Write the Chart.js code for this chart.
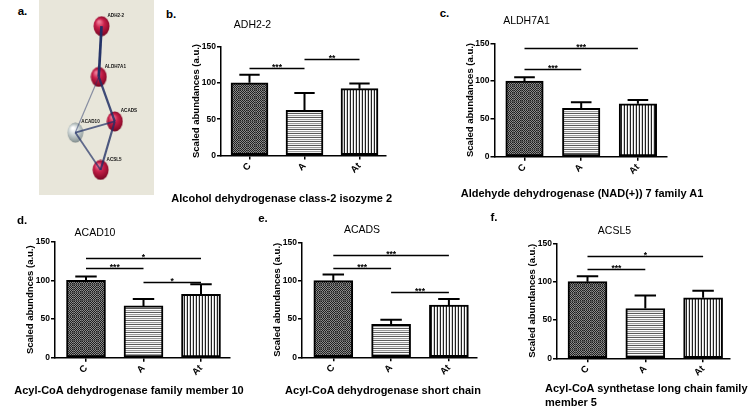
<!DOCTYPE html>
<html>
<head>
<meta charset="utf-8">
<script src="https://cdn.jsdelivr.net/npm/chart.js@4.4.1/dist/chart.umd.min.js"></script>
<style>
html, body { margin: 0; padding: 0; background: #fff; }
#wrap { position: relative; width: 754px; height: 406px; overflow: hidden; font-family: 'Liberation Sans', Arial, sans-serif; }
#wrap canvas { position: absolute; }
.t { position: absolute; white-space: nowrap; line-height: 1; color: #000; }
</style>
</head>
<body>
<div id="wrap"></div>
<script>
// ---- datos ----
const groups = ['C', 'A', 'At'];
const yTicks = [0, 50, 100, 150];

// media, error (SEM) y marcas de significancia [desde, hasta, altura, texto]
const adhMean = [100, 62, 92];
const adhSem = [11, 24, 7];
const adhSig = [[0, 1, 121, '***'], [1, 2, 133, '**']];

const aldhMean = [100, 64, 70];
const aldhSem = [5, 8, 5];
const aldhSig = [[0, 1, 116, '***'], [0, 2, 144, '***']];

const acad10Mean = [100, 67, 82];
const acad10Sem = [5, 9, 13];
const acad10Sig = [[0, 1, 116, '***'], [0, 2, 129, '*'], [1, 2, 98, '*']];

const acadsMean = [100, 43, 68];
const acadsSem = [8, 6, 8];
const acadsSig = [[0, 1, 116, '***'], [0, 2, 133, '***'], [1, 2, 85, '***']];

const acsl5Mean = [100, 65, 79];
const acsl5Sem = [7, 17, 9];
const acsl5Sig = [[0, 1, 117, '***'], [0, 2, 133, '*']];

// red de interacción (panel a)
const nodeNames = ['ADH2-2', 'ALDH7A1', 'ACADS', 'ACAD10', 'ACSL5'];
const nodeX = [63, 60, 77.5, 34.3, 62];
const nodeY = [22.3, 75.8, 122.7, 134.5, 173.8];
const nodeHit = [true, true, true, false, true];
const edgeFrom = [0, 1, 1, 3, 3, 2];
const edgeTo = [1, 2, 3, 2, 4, 4];
const edgeScore = [0.95, 0.75, 0.2, 0.55, 0.5, 0.65];

const FONT = "'Liberation Sans', Arial, sans-serif";
const wrap = document.getElementById('wrap');

function addText(str, x, y, size, weight, align) {
    const d = document.createElement('div');
    d.className = 't';
    d.textContent = str;
    d.style.left = x + 'px';
    d.style.top = y + 'px';
    d.style.fontSize = size + 'px';
    d.style.fontWeight = weight;
    d.style.transform = align === 'left' ? 'translate(0,-50%)' : 'translate(-50%,-50%)';
    wrap.appendChild(d);
}

function addCanvas(left, top, w, h) {
    const cv = document.createElement('canvas');
    cv.width = w; cv.height = h;
    cv.style.left = left + 'px'; cv.style.top = top + 'px';
    cv.style.width = w + 'px'; cv.style.height = h + 'px';
    wrap.appendChild(cv);
    return cv;
}

function makeTile(w, h, draw) {
    const c = document.createElement('canvas');
    c.width = w; c.height = h;
    draw(c.getContext('2d'));
    return c;
}

// texturas de las barras
const checkTile = makeTile(8, 8, g => {
    g.fillStyle = '#8c8c8c'; g.fillRect(0, 0, 8, 8);
    g.fillStyle = '#1e1e1e';
    for (let i = 0; i < 8; i++) for (let j = 0; j < 8; j++) if ((i + j) % 2 === 0) g.fillRect(i, j, 1, 1);
    g.fillStyle = '#555555'; g.fillRect(0, 0, 8, 1); g.fillRect(0, 0, 1, 8);
});
const hTile = makeTile(1, 4, g => {
    ['#5a5a5a', '#ffffff', '#9a9a9a', '#f0f0f0'].forEach((c, i) => { g.fillStyle = c; g.fillRect(0, i, 1, 1); });
});
const vTile = makeTile(3, 1, g => {
    ['#222222', '#ffffff', '#d0d0d0'].forEach((c, i) => { g.fillStyle = c; g.fillRect(i, 0, 1, 1); });
});

// barras de error y líneas de significancia
const errSigPlugin = {
    id: 'errSig',
    afterDatasetsDraw(chart, args, o) {
        const { ctx, scales: { x, y } } = chart;
        ctx.save();
        ctx.strokeStyle = '#000';
        ctx.lineWidth = 2;
        o.mean.forEach((m, i) => {
            const px = x.getPixelForValue(i);
            const y0 = y.getPixelForValue(m), y1 = y.getPixelForValue(m + o.sem[i]);
            ctx.beginPath();
            ctx.moveTo(px, y0); ctx.lineTo(px, y1);
            ctx.moveTo(px - o.cap / 2, y1); ctx.lineTo(px + o.cap / 2, y1);
            ctx.stroke();
        });
        ctx.lineWidth = 1.3;
        ctx.fillStyle = '#000';
        ctx.font = 'bold 8.5px ' + FONT;
        ctx.textAlign = 'center';
        ctx.textBaseline = 'alphabetic';
        o.sig.forEach(([a, b, v, s]) => {
            const x0 = x.getPixelForValue(a), x1 = x.getPixelForValue(b), py = Math.round(y.getPixelForValue(v)) + 0.5;
            ctx.beginPath(); ctx.moveTo(x0, py); ctx.lineTo(x1, py); ctx.stroke();
            ctx.fillText(s, (x0 + x1) / 2, py + 1.5);
        });
        ctx.restore();
    }
};

function barPanel(lay, mean, sem, sig) {
    const left = Math.round(lay.titleX - 6), top = Math.round(lay.T - 22);
    const w = Math.round(lay.R + 6 - left), h = Math.round(lay.B + 28 - top);
    const cv = addCanvas(left, top, w, h);
    const g = cv.getContext('2d');
    const fills = [g.createPattern(checkTile, 'repeat'), g.createPattern(hTile, 'repeat'), g.createPattern(vTile, 'repeat')];
    new Chart(cv, {
        type: 'bar',
        data: {
            datasets: [{
                data: mean.map((v, i) => ({ x: i, y: v })),
                backgroundColor: fills,
                borderColor: '#000',
                borderWidth: 2,
                borderSkipped: false,
                barThickness: lay.bw
            }]
        },
        options: {
            responsive: false,
            animation: false,
            events: [],
            layout: { padding: { top: lay.T - top, right: w - (lay.R - left), left: 0, bottom: 0 } },
            plugins: {
                legend: { display: false },
                tooltip: { enabled: false },
                errSig: { mean, sem, sig, cap: lay.bw * 0.55 }
            },
            scales: {
                x: {
                    type: 'linear',
                    min: (lay.L - lay.c0) / lay.s,
                    max: (lay.R - lay.c0) / lay.s,
                    offset: false,
                    afterBuildTicks: s => { s.ticks = groups.map((gr, i) => ({ value: i })); },
                    afterFit: s => { s.height = h - (lay.B - top); },
                    ticks: {
                        callback: v => groups[v],
                        minRotation: 45, maxRotation: 45,
                        color: '#000', padding: 1,
                        font: { family: FONT, size: 9.5, weight: 'bold' }
                    },
                    grid: { drawOnChartArea: false, offset: false, tickLength: 4, color: '#000', lineWidth: 1.5 },
                    border: { color: '#000', width: 1.5 }
                },
                y: {
                    min: 0, max: 150,
                    afterBuildTicks: s => { s.ticks = yTicks.map(v => ({ value: v })); },
                    afterFit: s => { s.width = lay.L - left; },
                    ticks: { color: '#000', padding: 1, font: { family: FONT, size: 8.5, weight: 'bold' } },
                    grid: { drawOnChartArea: false, tickLength: 4, color: '#000', lineWidth: 1.5 },
                    border: { color: '#000', width: 1.5 },
                    title: {
                        display: true, text: lay.ytitle, color: '#000', padding: 0,
                        font: { family: FONT, size: 9.5, weight: 'bold' }
                    }
                }
            }
        },
        plugins: [errSigPlugin]
    });
}

// ---- panel a: red ----
function sphere(hit) {
    return makeTile(17, 21, g => {
        const gr = g.createRadialGradient(6, 6, 1, 8.5, 10.5, 11);
        if (hit) {
            gr.addColorStop(0, '#f07a96');
            gr.addColorStop(0.35, '#c8204a');
            gr.addColorStop(0.8, '#8a0a2a');
            gr.addColorStop(1, '#5a0018');
        } else {
            gr.addColorStop(0, '#ffffff');
            gr.addColorStop(0.4, '#cdd5d5');
            gr.addColorStop(0.85, '#8f9a9a');
            gr.addColorStop(1, '#5e6868');
        }
        g.fillStyle = gr;
        g.beginPath();
        g.ellipse(8.5, 10.5, 8, 10, 0, 0, Math.PI * 2);
        g.fill();
    });
}

const netBg = {
    id: 'netBg',
    beforeDraw(chart) {
        const { ctx, width, height } = chart;
        ctx.save();
        ctx.fillStyle = '#e8e6da';
        ctx.fillRect(0, 0, width, height);
        ctx.restore();
    },
    afterDatasetsDraw(chart) {
        const { ctx, scales: { x, y } } = chart;
        ctx.save();
        ctx.fillStyle = '#111';
        ctx.font = 'bold 4.6px ' + FONT;
        ctx.textBaseline = 'middle';
        nodeNames.forEach((n, i) => {
            ctx.fillText(n, x.getPixelForValue(nodeX[i]) + 6, y.getPixelForValue(nodeY[i]) - 10.5);
        });
        ctx.restore();
    }
};

function networkPanel() {
    const cv = addCanvas(39, 0, 115, 195);
    const red = sphere(true), grey = sphere(false);
    const edgeSets = edgeFrom.map((a, k) => ({
        type: 'line',
        data: [{ x: nodeX[a], y: nodeY[a] }, { x: nodeX[edgeTo[k]], y: nodeY[edgeTo[k]] }],
        borderColor: `rgba(30, 45, 100, ${0.35 + 0.65 * edgeScore[k]})`,
        borderWidth: 0.8 + 2 * edgeScore[k],
        pointRadius: 0
    }));
    new Chart(cv, {
        type: 'scatter',
        data: {
            datasets: [...edgeSets, {
                type: 'scatter',
                data: nodeX.map((v, i) => ({ x: v, y: nodeY[i] })),
                pointStyle: nodeHit.map(h => h ? red : grey)
            }]
        },
        options: {
            responsive: false,
            animation: false,
            events: [],
            layout: { padding: 0 },
            plugins: { legend: { display: false }, tooltip: { enabled: false } },
            scales: {
                x: { type: 'linear', min: 0, max: 115, display: false },
                y: { type: 'linear', min: 0, max: 195, reverse: true, display: false }
            }
        },
        plugins: [netBg]
    });
}

networkPanel();

barPanel({ L: 221, R: 386, T: 46.5, B: 155.5, c0: 249.5, s: 55, bw: 37, titleX: 197, ytitle: 'Scaled abundances (a.u.)' }, adhMean, adhSem, adhSig);
barPanel({ L: 494.5, R: 667, T: 43.3, B: 156.7, c0: 524.5, s: 56.7, bw: 37.5, titleX: 470.5, ytitle: 'Scaled abundances (a.u.)' }, aldhMean, aldhSem, aldhSig);
barPanel({ L: 55, R: 230, T: 241.7, B: 357.7, c0: 86, s: 57.5, bw: 39, titleX: 31, ytitle: 'Scaled abundnces (a.u.)' }, acad10Mean, acad10Sem, acad10Sig);
barPanel({ L: 302, R: 477, T: 242.3, B: 357.3, c0: 333.3, s: 57.8, bw: 39, titleX: 278, ytitle: 'Scaled abundances (a.u.)' }, acadsMean, acadsSem, acadsSig);
barPanel({ L: 557, R: 730, T: 243.3, B: 358.3, c0: 587.5, s: 57.8, bw: 39, titleX: 533, ytitle: 'Scaled abundances (a.u.)' }, acsl5Mean, acsl5Sem, acsl5Sig);

// letras de panel
addText('a.', 22.5, 12, 11.5, 'bold');
addText('b.', 171, 15, 11.5, 'bold');
addText('c.', 444.5, 13.5, 11.5, 'bold');
addText('d.', 22, 221, 11.5, 'bold');
addText('e.', 263, 219, 11.5, 'bold');
addText('f.', 494, 218, 11.5, 'bold');

// títulos
addText('ADH2-2', 252.5, 23.5, 10.5, 'normal');
addText('ALDH7A1', 526.5, 19.5, 10.5, 'normal');
addText('ACAD10', 95, 232, 10.5, 'normal');
addText('ACADS', 362, 229, 10.5, 'normal');
addText('ACSL5', 614.5, 230, 10.5, 'normal');

// pies
addText('Alcohol dehydrogenase class-2 isozyme 2', 281.7, 197.7, 11, 'bold');
addText('Aldehyde dehydrogenase (NAD(+)) 7 family A1', 582, 193.3, 11, 'bold');
addText('Acyl-CoA dehydrogenase family member 10', 129, 390, 11, 'bold');
addText('Acyl-CoA dehydrogenase short chain', 383, 390, 11, 'bold');
addText('Acyl-CoA synthetase long chain family', 545, 388.3, 11, 'bold', 'left');
addText('member 5', 545, 401.7, 11, 'bold', 'left');
</script>
</body>
</html>
